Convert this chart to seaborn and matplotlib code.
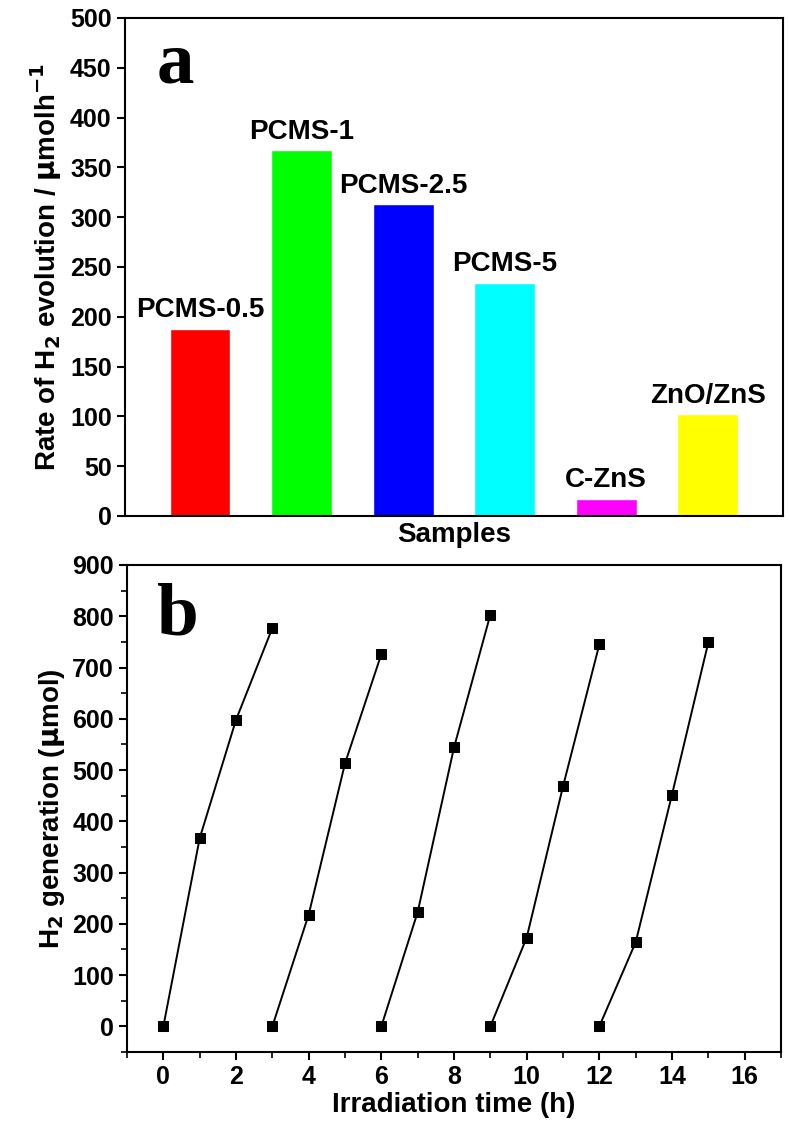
import matplotlib
matplotlib.use("Agg")
import matplotlib.pyplot as plt
import seaborn as sns
import pandas as pd
from matplotlib.ticker import MultipleLocator

# panel a: H2 evolution rate of the samples
samples = ["PCMS-0.5", "PCMS-1", "PCMS-2.5", "PCMS-5", "C-ZnS", "ZnO/ZnS"]
rates = [188, 367, 313, 234, 17, 102]
bar_colors = ["#FF0000", "#00FF00", "#0000FF", "#00FFFF", "#FF00FF", "#FFFF00"]

# panel b: cycling test, 5 runs of 3 h
cycle = [1, 1, 1, 1, 2, 2, 2, 2, 3, 3, 3, 3, 4, 4, 4, 4, 5, 5, 5, 5]
time_h = [0, 1, 2, 3, 3, 4, 5, 6, 6, 7, 8, 9, 9, 10, 11, 12, 12, 13, 14, 15]
h2_umol = [0, 367, 598, 777, 0, 218, 513, 726, 0, 223, 544, 803,
           0, 173, 468, 745, 0, 164, 452, 749]

sns.set_style("ticks")
plt.rcParams["font.family"] = ["Liberation Sans", "DejaVu Sans"]
plt.rcParams["font.weight"] = "bold"
plt.rcParams["axes.linewidth"] = 1.5
for k in ["text.color", "axes.labelcolor", "xtick.color", "ytick.color", "axes.edgecolor"]:
    plt.rcParams[k] = "black"

fig = plt.figure(figsize=(7.9, 11.32), dpi=100)

# ---- panel a ----
ax1 = fig.add_axes([0.158, 0.5442, 0.833, 0.4399])
df_a = pd.DataFrame({"sample": samples, "rate": rates})
sns.barplot(data=df_a, x="sample", y="rate", hue="sample", palette=bar_colors,
            width=0.6, saturation=1, legend=False, ax=ax1)
for cont, lab in zip(ax1.containers, samples):
    ax1.bar_label(cont, labels=[lab], padding=4, fontsize=20, fontweight="bold")
ax1.set_xlim(-0.74, 5.74)
ax1.set_ylim(0, 500)
ax1.yaxis.set_major_locator(MultipleLocator(50))
ax1.set_xticks([])
ax1.set_xlabel("Samples", fontsize=20, fontweight="bold", labelpad=4)
ax1.set_ylabel(r"Rate of H$_\mathbf{2}$ evolution / $\mathbf{\mu}$molh$^\mathbf{-1}$",
               fontsize=20, fontweight="bold", labelpad=4)
ax1.tick_params(axis="y", length=6, width=1.5, labelsize=18, direction="out")
ax1.text(0.049, 0.871, "a", transform=ax1.transAxes, fontsize=54,
         fontweight="bold", family="Liberation Serif", va="baseline")

# ---- panel b ----
ax2 = fig.add_axes([0.1608, 0.0707, 0.8278, 0.4302])
df_b = pd.DataFrame({"cycle": cycle, "time": time_h, "h2": h2_umol})
sns.lineplot(data=df_b, x="time", y="h2", units="cycle", estimator=None,
             color="black", marker="s", markersize=7, markeredgecolor="black",
             linewidth=1.4, ax=ax2)
ax2.set_xlim(-1, 17)
ax2.set_ylim(-50, 900)
ax2.xaxis.set_major_locator(MultipleLocator(2))
ax2.xaxis.set_minor_locator(MultipleLocator(1))
ax2.yaxis.set_major_locator(MultipleLocator(100))
ax2.yaxis.set_minor_locator(MultipleLocator(50))
ax2.tick_params(which="major", length=6, width=1.5, labelsize=18, direction="out")
ax2.tick_params(which="minor", length=4, width=1.2, direction="out")
ax2.set_xlabel("Irradiation time (h)", fontsize=20, fontweight="bold", labelpad=2)
ax2.set_ylabel(r"H$_\mathbf{2}$ generation ($\mathbf{\mu}$mol)", fontsize=20,
               fontweight="bold", labelpad=4)
ax2.text(0.046, 0.858, "b", transform=ax2.transAxes, fontsize=54,
         fontweight="bold", family="Liberation Serif", va="baseline")

for ax in (ax1, ax2):
    for sp in ax.spines.values():
        sp.set_visible(True)
        sp.set_color("black")
        sp.set_linewidth(1.5)

fig.savefig("out.png", dpi=100)
